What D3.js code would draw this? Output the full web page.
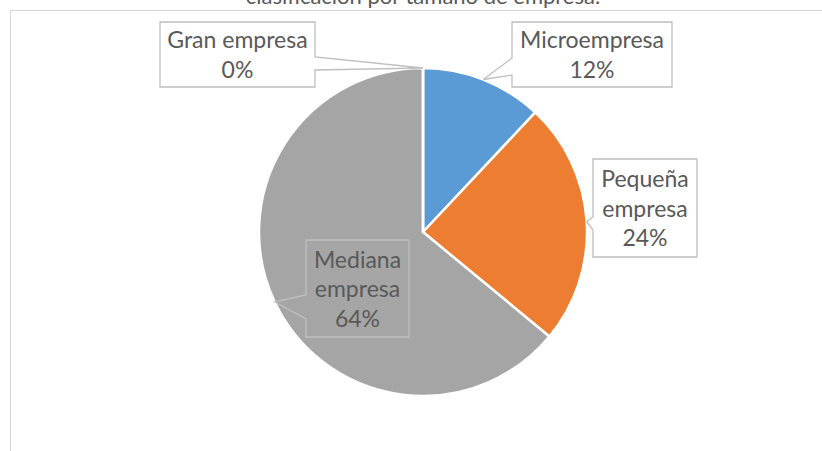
<!DOCTYPE html>
<html>
<head>
<meta charset="utf-8">
<script src="https://cdn.jsdelivr.net/npm/d3@7"></script>
<style>
  body { margin: 0; background: #fff; overflow: hidden; }
  text { font-family: Lato, "Open Sans", sans-serif; fill: #595959; }
</style>
</head>
<body>
<div id="chart"></div>
<script>
// data
var categories = ["Microempresa", "Pequeña empresa", "Mediana empresa", "Gran empresa"];
var values = [12, 24, 64, 0];
var colors = ["#5b9bd5", "#ed7d31", "#a5a5a5", "#ffc000"];
var labelLines = [["Microempresa"], ["Pequeña", "empresa"], ["Mediana", "empresa"], ["Gran empresa"]];
var title = "clasificación por tamaño de empresa.";

var width = 822, height = 451;
var cx = 423, cy = 232, radius = 164;

var svg = d3.select("#chart")
  .append("svg")
    .attr("width", width)
    .attr("height", height);

// chart area border (runs off the right and bottom of the picture)
svg.append("rect")
  .attr("x", 10.5)
  .attr("y", 10.5)
  .attr("width", 900)
  .attr("height", 500)
  .style("fill", "none")
  .style("stroke", "#d9d9d9")
  .style("stroke-width", 1.2);

// title, mostly cut off at the top like the original
svg.append("text")
  .attr("x", cx)
  .attr("y", 4)
  .attr("text-anchor", "middle")
  .style("font-size", "22px")
  .text(title);

var pie = d3.pie().sort(null).value(function(d) { return d; });
var arcs = pie(values);
var arc = d3.arc().innerRadius(0).outerRadius(radius);

var g = svg.append("g")
  .attr("transform", "translate(" + cx + "," + cy + ")");

g.selectAll("path.slice")
  .data(arcs)
  .enter()
  .append("path")
    .attr("class", "slice")
    .attr("d", arc)
    .style("fill", function(d, i) { return colors[i]; })
    .style("stroke", "#fff")
    .style("stroke-width", 2.5)
    .style("stroke-linejoin", "round");

// callout boxes (layout only)
var boxes = [
  {x: 512, y: 22, w: 160, h: 65, side: "left",  b0: 58,  b1: 75},
  {x: 593, y: 159, w: 104, h: 98, side: "left", b0: 217, b1: 230},
  {x: 306, y: 240, w: 103, h: 97, side: "left", b0: 295, b1: 319},
  {x: 160, y: 22, w: 155, h: 65, side: "right", b0: 57,  b1: 70}
];

var total = d3.sum(values);

function calloutPath(b, tip) {
  var p = d3.path();
  if (b.side == "left") {
    p.moveTo(b.x, b.y);
    p.lineTo(b.x + b.w, b.y);
    p.lineTo(b.x + b.w, b.y + b.h);
    p.lineTo(b.x, b.y + b.h);
    p.lineTo(b.x, b.b1);
    p.lineTo(tip[0], tip[1]);
    p.lineTo(b.x, b.b0);
    p.closePath();
  } else {
    p.moveTo(b.x, b.y);
    p.lineTo(b.x + b.w, b.y);
    p.lineTo(b.x + b.w, b.b0);
    p.lineTo(tip[0], tip[1]);
    p.lineTo(b.x + b.w, b.b1);
    p.lineTo(b.x + b.w, b.y + b.h);
    p.lineTo(b.x, b.y + b.h);
    p.closePath();
  }
  return p.toString();
}

arcs.forEach(function(d, i) {
  var b = boxes[i];
  var mid = (d.startAngle + d.endAngle) / 2;
  var tip = [cx + radius * Math.sin(mid), cy - radius * Math.cos(mid)];

  svg.append("path")
    .attr("d", calloutPath(b, tip))
    .style("fill", "none")
    .style("stroke", "#bfbfbf")
    .style("stroke-width", 1.3);

  var lines = labelLines[i].concat([Math.round(values[i] / total * 100) + "%"]);
  var lineH = 29.5;
  var y0 = b.y + b.h / 2 - (lines.length - 1) * lineH / 2;
  var t = svg.append("text")
    .attr("text-anchor", "middle")
    .style("font-size", "23px");
  lines.forEach(function(s, k) {
    t.append("tspan")
      .attr("x", b.x + b.w / 2)
      .attr("y", y0 + k * lineH)
      .attr("dy", "0.38em")
      .text(s);
  });
});
</script>
</body>
</html>
